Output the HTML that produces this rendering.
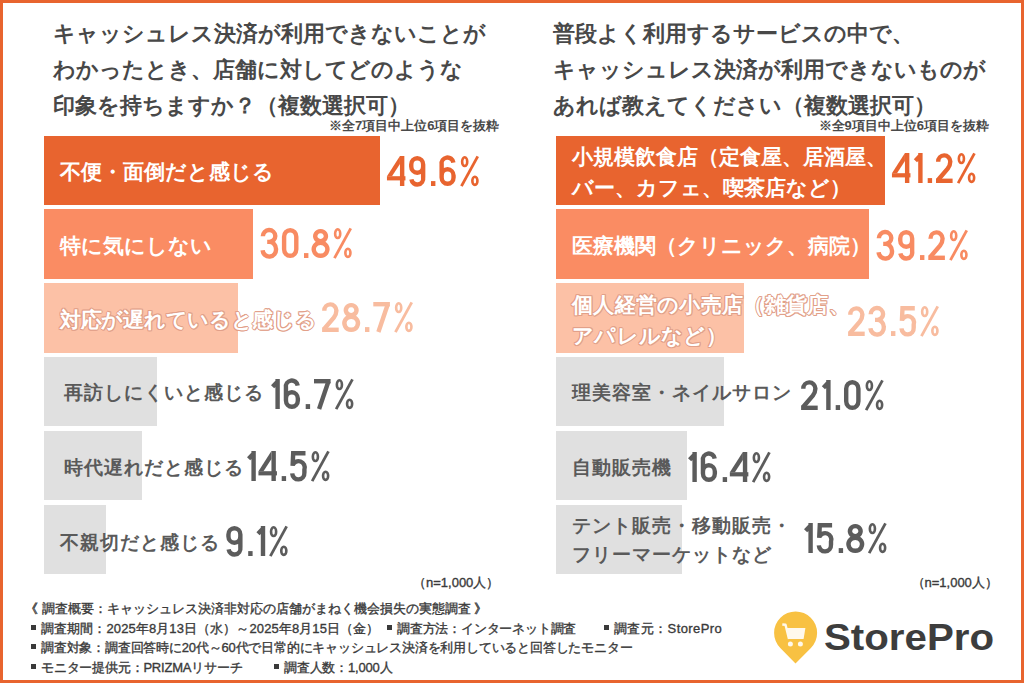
<!DOCTYPE html>
<html lang="ja">
<head>
<meta charset="utf-8">
<style>
*{margin:0;padding:0;box-sizing:border-box}
html,body{width:1024px;height:683px;overflow:hidden;background:#fff}
body{position:relative;font-family:"Liberation Sans",sans-serif;color:#444}
#frame{position:absolute;left:0;top:0;width:1024px;height:683px;border:3px solid #E8642F}
.abs{position:absolute;white-space:nowrap}
.title{font-size:22px;font-weight:bold;line-height:36.3px;color:#484848}
.note{font-size:13px;font-weight:bold;line-height:16px;color:#4a4a4a}
.bar{position:absolute;height:69.3px}
.lbl{font-size:21px;font-weight:bold;line-height:31px;color:#fff}
.lg{font-size:19px;letter-spacing:1px;line-height:29px;color:#5a5a5a}
.ol{text-shadow:1px 0 0 #E2A089,-1px 0 0 #E2A089,0 1px 0 #E2A089,0 -1px 0 #E2A089,0.7px 0.7px 0 #E2A089,-0.7px 0.7px 0 #E2A089,0.7px -0.7px 0 #E2A089,-0.7px -0.7px 0 #E2A089}
.n{font-size:13px;font-weight:normal;line-height:16px;color:#3a3a3a;-webkit-text-stroke:0.35px #3a3a3a}
.foot{font-size:13px;font-weight:normal;line-height:16px;color:#3a3a3a;-webkit-text-stroke:0.35px #3a3a3a}
.f3{letter-spacing:-0.2px}
.f2{letter-spacing:0.1px}
.f4{letter-spacing:0.4px}
.sq{display:inline-block;width:5px;height:5px;background:#3a3a3a;margin-right:5px;position:relative;top:-3px}
</style>
</head>
<body>
<div id="frame"></div>

<div class="abs title" style="left:53px;top:15.5px">キャッシュレス決済が利用できないことが<br>わかったとき、店舗に対してどのような<br>印象を持ちますか？（複数選択可）</div>
<div class="abs note" style="left:329px;top:118px">※全7項目中上位6項目を抜粋</div>
<div class="abs title" style="left:553px;top:15.5px">普段よく利用するサービスの中で、<br>キャッシュレス決済が利用できないものが<br>あれば教えてください（複数選択可）</div>
<div class="abs note" style="left:818.5px;top:118px">※全9項目中上位6項目を抜粋</div>
<div class="bar" style="left:44px;top:135.5px;width:336px;background:#E8642F"></div>
<div class="bar" style="left:556px;top:135.5px;width:329px;background:#E8642F"></div>
<div class="bar" style="left:44px;top:209.4px;width:208.5px;background:#FA8C63"></div>
<div class="bar" style="left:556px;top:209.4px;width:313px;background:#FA8C63"></div>
<div class="bar" style="left:44px;top:283.3px;width:194.3px;background:#FCC1A6"></div>
<div class="bar" style="left:556px;top:283.3px;width:187.8px;background:#FCC1A6"></div>
<div class="bar" style="left:44px;top:357.2px;width:113px;background:#E0E0E0"></div>
<div class="bar" style="left:556px;top:357.2px;width:167.8px;background:#E0E0E0"></div>
<div class="bar" style="left:44px;top:431.1px;width:98.2px;background:#E0E0E0"></div>
<div class="bar" style="left:556px;top:431.1px;width:131px;background:#E0E0E0"></div>
<div class="bar" style="left:44px;top:505.0px;width:61.6px;background:#E0E0E0"></div>
<div class="bar" style="left:556px;top:505.0px;width:126.2px;background:#E0E0E0"></div>
<div class="abs lbl " style="left:60px;top:156.10px;">不便・面倒だと感じる</div>
<div class="abs lbl " style="left:60px;top:229.80px;">特に気にしない</div>
<div class="abs lbl ol" style="left:60px;top:303.60px;letter-spacing:-0.3px">対応が遅れていると感じる</div>
<div class="abs lbl lg" style="left:63.5px;top:378.20px;">再訪しにくいと感じる</div>
<div class="abs lbl lg" style="left:63.5px;top:452.60px;">時代遅れだと感じる</div>
<div class="abs lbl lg" style="left:60px;top:528.20px;">不親切だと感じる</div>
<div class="abs lbl " style="left:572px;top:141.30px;">小規模飲食店（定食屋、居酒屋、<br>バー、カフェ、喫茶店など）</div>
<div class="abs lbl " style="left:572px;top:229.80px;">医療機関（クリニック、病院）</div>
<div class="abs lbl ol" style="left:572px;top:289.00px;letter-spacing:0.3px">個人経営の小売店（雑貨店、<br>アパレルなど）</div>
<div class="abs lbl lg" style="left:572px;top:378.20px;">理美容室・ネイルサロン</div>
<div class="abs lbl lg" style="left:572px;top:452.60px;">自動販売機</div>
<div class="abs lbl lg" style="left:572px;top:511.30px;">テント販売・移動販売・<br>フリーマーケットなど</div>
<svg class="abs" style="left:386.05px;top:156.40px;overflow:visible;color:#E8642F" width="94.10" height="30" viewBox="0 0 94.10 30"><g fill="none" stroke="#E8642F" stroke-width="4.4" stroke-linecap="butt"><g transform="translate(0.00 0)"><g stroke="none" fill="currentColor"><rect x="13.95" y="0" width="4.4" height="30"/><rect x="0.95" y="20.2" width="18.5" height="4.2"/><polygon points="13.95,0 0.95,20.2 6.0,20.2 13.95,7.9"/></g></g><g transform="translate(20.80 0)"><path transform="rotate(180 10.4 15)" d="M16.2 6.6 A5.95 6.1 0 0 0 4.45 8.6 L4.45 21.5 A5.95 6.3 0 0 0 16.35 21.5 L16.35 19.6 A5.95 6.3 0 0 0 4.45 19.6"/></g><g transform="translate(41.60 0)" fill="#E8642F"><rect x="3.4" y="25.1" width="4.4" height="4.9" stroke="none"/></g><g transform="translate(51.20 0)"><path d="M16.2 6.6 A5.95 6.1 0 0 0 4.45 8.6 L4.45 21.5 A5.95 6.3 0 0 0 16.35 21.5 L16.35 19.6 A5.95 6.3 0 0 0 4.45 19.6"/></g><g transform="translate(72.00 0)" stroke-width="2.6"><ellipse cx="6.7" cy="5.65" rx="2.55" ry="4.35"/><path d="M19.75 0.4 L3.45 30.2" stroke-width="2.8"/><ellipse cx="16.9" cy="24.8" rx="2.55" ry="4.1"/></g></g></svg>
<svg class="abs" style="left:259.05px;top:228.40px;overflow:visible;color:#F88B62" width="94.10" height="30" viewBox="0 0 94.10 30"><g fill="none" stroke="#F88B62" stroke-width="4.4" stroke-linecap="butt"><g transform="translate(0.00 0)"><path d="M3.9 8.3 A6.2 6.1 0 0 1 16.3 8 A6.0 5.8 0 0 1 10.3 13.9 L8.2 13.9 M10.3 13.9 A6.8 7 0 0 1 17.0 21.0 A6.7 6.9 0 0 1 3.6 22.3"/></g><g transform="translate(20.80 0)"><path d="M4.3 8.7 A6.1 6.5 0 0 1 16.5 8.7 L16.5 21.3 A6.1 6.5 0 0 1 4.3 21.3 Z"/></g><g transform="translate(41.60 0)" fill="#F88B62"><rect x="3.4" y="25.1" width="4.4" height="4.9" stroke="none"/></g><g transform="translate(51.20 0)"><path d="M10.4 3.15 A5.3 5.05 0 1 1 10.35 3.15 Z M10.4 14.7 A6.8 6.55 0 1 1 10.35 14.7 Z"/></g><g transform="translate(72.00 0)" stroke-width="2.6"><ellipse cx="6.7" cy="5.65" rx="2.55" ry="4.35"/><path d="M19.75 0.4 L3.45 30.2" stroke-width="2.8"/><ellipse cx="16.9" cy="24.8" rx="2.55" ry="4.1"/></g></g></svg>
<svg class="abs" style="left:320.05px;top:302.20px;overflow:visible;color:#F8BC9F" width="94.10" height="30" viewBox="0 0 94.10 30"><g fill="none" stroke="#F8BC9F" stroke-width="4.4" stroke-linecap="butt"><g transform="translate(0.00 0)"><path d="M4.3 8.8 A6.05 6.3 0 0 1 16.4 8.6 C16.4 11.6 15.6 13.2 13.8 15.6 L3.9 27.2"/><rect x="2.1" y="25.6" width="16.6" height="4.4" stroke="none" fill="currentColor"/></g><g transform="translate(20.80 0)"><path d="M10.4 3.15 A5.3 5.05 0 1 1 10.35 3.15 Z M10.4 14.7 A6.8 6.55 0 1 1 10.35 14.7 Z"/></g><g transform="translate(41.60 0)" fill="#F8BC9F"><rect x="3.4" y="25.1" width="4.4" height="4.9" stroke="none"/></g><g transform="translate(51.20 0)"><rect x="2.1" y="0" width="16.6" height="4.4" stroke="none" fill="currentColor"/><path d="M16.5 2.5 L7.2 30"/></g><g transform="translate(72.00 0)" stroke-width="2.6"><ellipse cx="6.7" cy="5.65" rx="2.55" ry="4.35"/><path d="M19.75 0.4 L3.45 30.2" stroke-width="2.8"/><ellipse cx="16.9" cy="24.8" rx="2.55" ry="4.1"/></g></g></svg>
<svg class="abs" style="left:269.15px;top:378.80px;overflow:visible;color:#5C5C5C" width="85.80" height="30" viewBox="0 0 85.80 30"><g fill="none" stroke="#5C5C5C" stroke-width="4.4" stroke-linecap="butt"><g transform="translate(0.00 0)"><path d="M8.6 0 L8.6 30 M8.6 2.6 L3.6 7.8" /></g><g transform="translate(12.50 0)"><path d="M16.2 6.6 A5.95 6.1 0 0 0 4.45 8.6 L4.45 21.5 A5.95 6.3 0 0 0 16.35 21.5 L16.35 19.6 A5.95 6.3 0 0 0 4.45 19.6"/></g><g transform="translate(33.30 0)" fill="#5C5C5C"><rect x="3.4" y="25.1" width="4.4" height="4.9" stroke="none"/></g><g transform="translate(42.90 0)"><rect x="2.1" y="0" width="16.6" height="4.4" stroke="none" fill="currentColor"/><path d="M16.5 2.5 L7.2 30"/></g><g transform="translate(63.70 0)" stroke-width="2.6"><ellipse cx="6.7" cy="5.65" rx="2.55" ry="4.35"/><path d="M19.75 0.4 L3.45 30.2" stroke-width="2.8"/><ellipse cx="16.9" cy="24.8" rx="2.55" ry="4.1"/></g></g></svg>
<svg class="abs" style="left:245.45px;top:451.40px;overflow:visible;color:#5C5C5C" width="85.80" height="30" viewBox="0 0 85.80 30"><g fill="none" stroke="#5C5C5C" stroke-width="4.4" stroke-linecap="butt"><g transform="translate(0.00 0)"><path d="M8.6 0 L8.6 30 M8.6 2.6 L3.6 7.8" /></g><g transform="translate(12.50 0)"><g stroke="none" fill="currentColor"><rect x="13.95" y="0" width="4.4" height="30"/><rect x="0.95" y="20.2" width="18.5" height="4.2"/><polygon points="13.95,0 0.95,20.2 6.0,20.2 13.95,7.9"/></g></g><g transform="translate(33.30 0)" fill="#5C5C5C"><rect x="3.4" y="25.1" width="4.4" height="4.9" stroke="none"/></g><g transform="translate(42.90 0)"><path d="M17.6 2.2 L5.3 2.2 L4.7 14.8 M4.7 14.4 A6.2 6.3 0 0 1 16.5 18.6 L16.5 21.6 A6.05 6.3 0 0 1 4.3 22.4" stroke-linejoin="miter"/></g><g transform="translate(63.70 0)" stroke-width="2.6"><ellipse cx="6.7" cy="5.65" rx="2.55" ry="4.35"/><path d="M19.75 0.4 L3.45 30.2" stroke-width="2.8"/><ellipse cx="16.9" cy="24.8" rx="2.55" ry="4.1"/></g></g></svg>
<svg class="abs" style="left:223.85px;top:526.00px;overflow:visible;color:#5C5C5C" width="65.00" height="30" viewBox="0 0 65.00 30"><g fill="none" stroke="#5C5C5C" stroke-width="4.4" stroke-linecap="butt"><g transform="translate(0.00 0)"><path transform="rotate(180 10.4 15)" d="M16.2 6.6 A5.95 6.1 0 0 0 4.45 8.6 L4.45 21.5 A5.95 6.3 0 0 0 16.35 21.5 L16.35 19.6 A5.95 6.3 0 0 0 4.45 19.6"/></g><g transform="translate(20.80 0)" fill="#5C5C5C"><rect x="3.4" y="25.1" width="4.4" height="4.9" stroke="none"/></g><g transform="translate(30.40 0)"><path d="M8.6 0 L8.6 30 M8.6 2.6 L3.6 7.8" /></g><g transform="translate(42.90 0)" stroke-width="2.6"><ellipse cx="6.7" cy="5.65" rx="2.55" ry="4.35"/><path d="M19.75 0.4 L3.45 30.2" stroke-width="2.8"/><ellipse cx="16.9" cy="24.8" rx="2.55" ry="4.1"/></g></g></svg>
<svg class="abs" style="left:891.35px;top:152.50px;overflow:visible;color:#E8642F" width="85.80" height="30" viewBox="0 0 85.80 30"><g fill="none" stroke="#E8642F" stroke-width="4.4" stroke-linecap="butt"><g transform="translate(0.00 0)"><g stroke="none" fill="currentColor"><rect x="13.95" y="0" width="4.4" height="30"/><rect x="0.95" y="20.2" width="18.5" height="4.2"/><polygon points="13.95,0 0.95,20.2 6.0,20.2 13.95,7.9"/></g></g><g transform="translate(20.80 0)"><path d="M8.6 0 L8.6 30 M8.6 2.6 L3.6 7.8" /></g><g transform="translate(33.30 0)" fill="#E8642F"><rect x="3.4" y="25.1" width="4.4" height="4.9" stroke="none"/></g><g transform="translate(42.90 0)"><path d="M4.3 8.8 A6.05 6.3 0 0 1 16.4 8.6 C16.4 11.6 15.6 13.2 13.8 15.6 L3.9 27.2"/><rect x="2.1" y="25.6" width="16.6" height="4.4" stroke="none" fill="currentColor"/></g><g transform="translate(63.70 0)" stroke-width="2.6"><ellipse cx="6.7" cy="5.65" rx="2.55" ry="4.35"/><path d="M19.75 0.4 L3.45 30.2" stroke-width="2.8"/><ellipse cx="16.9" cy="24.8" rx="2.55" ry="4.1"/></g></g></svg>
<svg class="abs" style="left:875.05px;top:229.90px;overflow:visible;color:#F88B62" width="94.10" height="30" viewBox="0 0 94.10 30"><g fill="none" stroke="#F88B62" stroke-width="4.4" stroke-linecap="butt"><g transform="translate(0.00 0)"><path d="M3.9 8.3 A6.2 6.1 0 0 1 16.3 8 A6.0 5.8 0 0 1 10.3 13.9 L8.2 13.9 M10.3 13.9 A6.8 7 0 0 1 17.0 21.0 A6.7 6.9 0 0 1 3.6 22.3"/></g><g transform="translate(20.80 0)"><path transform="rotate(180 10.4 15)" d="M16.2 6.6 A5.95 6.1 0 0 0 4.45 8.6 L4.45 21.5 A5.95 6.3 0 0 0 16.35 21.5 L16.35 19.6 A5.95 6.3 0 0 0 4.45 19.6"/></g><g transform="translate(41.60 0)" fill="#F88B62"><rect x="3.4" y="25.1" width="4.4" height="4.9" stroke="none"/></g><g transform="translate(51.20 0)"><path d="M4.3 8.8 A6.05 6.3 0 0 1 16.4 8.6 C16.4 11.6 15.6 13.2 13.8 15.6 L3.9 27.2"/><rect x="2.1" y="25.6" width="16.6" height="4.4" stroke="none" fill="currentColor"/></g><g transform="translate(72.00 0)" stroke-width="2.6"><ellipse cx="6.7" cy="5.65" rx="2.55" ry="4.35"/><path d="M19.75 0.4 L3.45 30.2" stroke-width="2.8"/><ellipse cx="16.9" cy="24.8" rx="2.55" ry="4.1"/></g></g></svg>
<svg class="abs" style="left:845.75px;top:305.50px;overflow:visible;color:#F8BC9F" width="94.10" height="30" viewBox="0 0 94.10 30"><g fill="none" stroke="#F8BC9F" stroke-width="4.4" stroke-linecap="butt"><g transform="translate(0.00 0)"><path d="M4.3 8.8 A6.05 6.3 0 0 1 16.4 8.6 C16.4 11.6 15.6 13.2 13.8 15.6 L3.9 27.2"/><rect x="2.1" y="25.6" width="16.6" height="4.4" stroke="none" fill="currentColor"/></g><g transform="translate(20.80 0)"><path d="M3.9 8.3 A6.2 6.1 0 0 1 16.3 8 A6.0 5.8 0 0 1 10.3 13.9 L8.2 13.9 M10.3 13.9 A6.8 7 0 0 1 17.0 21.0 A6.7 6.9 0 0 1 3.6 22.3"/></g><g transform="translate(41.60 0)" fill="#F8BC9F"><rect x="3.4" y="25.1" width="4.4" height="4.9" stroke="none"/></g><g transform="translate(51.20 0)"><path d="M17.6 2.2 L5.3 2.2 L4.7 14.8 M4.7 14.4 A6.2 6.3 0 0 1 16.5 18.6 L16.5 21.6 A6.05 6.3 0 0 1 4.3 22.4" stroke-linejoin="miter"/></g><g transform="translate(72.00 0)" stroke-width="2.6"><ellipse cx="6.7" cy="5.65" rx="2.55" ry="4.35"/><path d="M19.75 0.4 L3.45 30.2" stroke-width="2.8"/><ellipse cx="16.9" cy="24.8" rx="2.55" ry="4.1"/></g></g></svg>
<svg class="abs" style="left:799.25px;top:379.60px;overflow:visible;color:#5C5C5C" width="85.80" height="30" viewBox="0 0 85.80 30"><g fill="none" stroke="#5C5C5C" stroke-width="4.4" stroke-linecap="butt"><g transform="translate(0.00 0)"><path d="M4.3 8.8 A6.05 6.3 0 0 1 16.4 8.6 C16.4 11.6 15.6 13.2 13.8 15.6 L3.9 27.2"/><rect x="2.1" y="25.6" width="16.6" height="4.4" stroke="none" fill="currentColor"/></g><g transform="translate(20.80 0)"><path d="M8.6 0 L8.6 30 M8.6 2.6 L3.6 7.8" /></g><g transform="translate(33.30 0)" fill="#5C5C5C"><rect x="3.4" y="25.1" width="4.4" height="4.9" stroke="none"/></g><g transform="translate(42.90 0)"><path d="M4.3 8.7 A6.1 6.5 0 0 1 16.5 8.7 L16.5 21.3 A6.1 6.5 0 0 1 4.3 21.3 Z"/></g><g transform="translate(63.70 0)" stroke-width="2.6"><ellipse cx="6.7" cy="5.65" rx="2.55" ry="4.35"/><path d="M19.75 0.4 L3.45 30.2" stroke-width="2.8"/><ellipse cx="16.9" cy="24.8" rx="2.55" ry="4.1"/></g></g></svg>
<svg class="abs" style="left:685.95px;top:452.30px;overflow:visible;color:#5C5C5C" width="85.80" height="30" viewBox="0 0 85.80 30"><g fill="none" stroke="#5C5C5C" stroke-width="4.4" stroke-linecap="butt"><g transform="translate(0.00 0)"><path d="M8.6 0 L8.6 30 M8.6 2.6 L3.6 7.8" /></g><g transform="translate(12.50 0)"><path d="M16.2 6.6 A5.95 6.1 0 0 0 4.45 8.6 L4.45 21.5 A5.95 6.3 0 0 0 16.35 21.5 L16.35 19.6 A5.95 6.3 0 0 0 4.45 19.6"/></g><g transform="translate(33.30 0)" fill="#5C5C5C"><rect x="3.4" y="25.1" width="4.4" height="4.9" stroke="none"/></g><g transform="translate(42.90 0)"><g stroke="none" fill="currentColor"><rect x="13.95" y="0" width="4.4" height="30"/><rect x="0.95" y="20.2" width="18.5" height="4.2"/><polygon points="13.95,0 0.95,20.2 6.0,20.2 13.95,7.9"/></g></g><g transform="translate(63.70 0)" stroke-width="2.6"><ellipse cx="6.7" cy="5.65" rx="2.55" ry="4.35"/><path d="M19.75 0.4 L3.45 30.2" stroke-width="2.8"/><ellipse cx="16.9" cy="24.8" rx="2.55" ry="4.1"/></g></g></svg>
<svg class="abs" style="left:801.65px;top:523.10px;overflow:visible;color:#5C5C5C" width="85.80" height="30" viewBox="0 0 85.80 30"><g fill="none" stroke="#5C5C5C" stroke-width="4.4" stroke-linecap="butt"><g transform="translate(0.00 0)"><path d="M8.6 0 L8.6 30 M8.6 2.6 L3.6 7.8" /></g><g transform="translate(12.50 0)"><path d="M17.6 2.2 L5.3 2.2 L4.7 14.8 M4.7 14.4 A6.2 6.3 0 0 1 16.5 18.6 L16.5 21.6 A6.05 6.3 0 0 1 4.3 22.4" stroke-linejoin="miter"/></g><g transform="translate(33.30 0)" fill="#5C5C5C"><rect x="3.4" y="25.1" width="4.4" height="4.9" stroke="none"/></g><g transform="translate(42.90 0)"><path d="M10.4 3.15 A5.3 5.05 0 1 1 10.35 3.15 Z M10.4 14.7 A6.8 6.55 0 1 1 10.35 14.7 Z"/></g><g transform="translate(63.70 0)" stroke-width="2.6"><ellipse cx="6.7" cy="5.65" rx="2.55" ry="4.35"/><path d="M19.75 0.4 L3.45 30.2" stroke-width="2.8"/><ellipse cx="16.9" cy="24.8" rx="2.55" ry="4.1"/></g></g></svg>
<div class="abs n" style="left:413px;top:574.5px">（n=1,000人）</div>
<div class="abs n" style="left:911.5px;top:574.5px">（n=1,000人）</div>
<div class="abs foot " style="left:25px;top:600.80px">《 調査概要：キャッシュレス決済非対応の店舗がまねく機会損失の実態調査 》</div>
<div class="abs foot f2" style="left:31px;top:620.70px"><i class="sq"></i>調査期間：2025年8月13日（水）～2025年8月15日（金）</div>
<div class="abs foot f3" style="left:387px;top:620.70px"><i class="sq"></i>調査方法：インターネット調査</div>
<div class="abs foot f4" style="left:604px;top:620.70px"><i class="sq"></i>調査元：StorePro</div>
<div class="abs foot f3" style="left:31px;top:640.00px"><i class="sq"></i>調査対象：調査回答時に20代～60代で日常的にキャッシュレス決済を利用していると回答したモニター</div>
<div class="abs foot f3" style="left:31px;top:659.90px"><i class="sq"></i>モニター提供元：PRIZMAリサーチ</div>
<div class="abs foot f3" style="left:274px;top:659.90px"><i class="sq"></i>調査人数：1,000人</div>
<svg class="abs" style="left:770px;top:605px" width="52" height="62" viewBox="0 0 52 62">
<path d="M25.5 58.5 L10.3 43 A21.5 21.5 0 1 1 40.9 43 Z" fill="#F8C142"/>
<path d="M12.3 19.5 L15.5 19.8 L19 34" stroke="#FFF9EC" stroke-width="2.4" fill="none" stroke-linejoin="round"/>
<path d="M16 23.1 L35.4 23.1 L33.6 34 L18.6 34 Z" fill="#FFF9EC"/>
<circle cx="20.4" cy="39" r="2.5" fill="#FFF9EC"/>
<circle cx="30.4" cy="39" r="2.5" fill="#FFF9EC"/>
</svg>
<div class="abs" style="left:824px;top:616px;font-size:37px;font-weight:bold;color:#3d3d3d;line-height:44px;transform-origin:0 0;transform:scaleX(1.088)">StorePro</div>

</body>
</html>
